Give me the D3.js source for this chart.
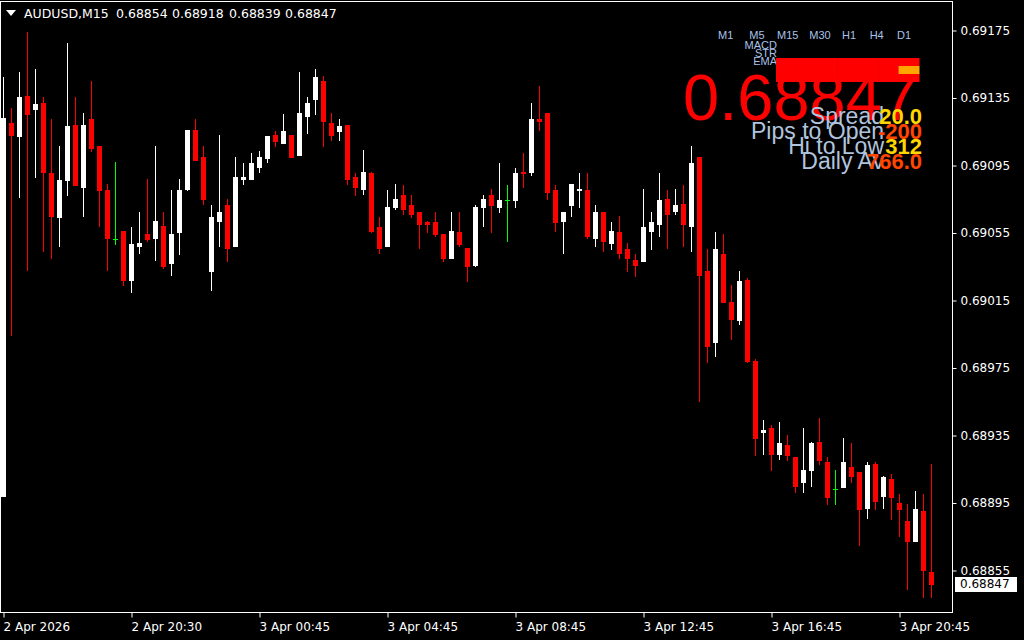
<!DOCTYPE html>
<html><head><meta charset="utf-8">
<script src="https://cdn.jsdelivr.net/npm/d3@7"></script>
<style>html,body{margin:0;padding:0;background:#000;overflow:hidden}</style>
</head><body>
<svg id="chart" width="1024" height="640"></svg>
<script>
// ---------------- data ----------------
const symbol = "AUDUSD,M15";
const headerPrices = ["0.68854", "0.68918", "0.68839", "0.68847"];
const opens = [0.68899,0.69120,0.69112,0.69136,0.69128,0.69132,0.69090,0.69064,0.69086,0.69119,
0.69082,0.69122,0.69106,0.69080,0.69051,0.69056,0.69027,0.69047,0.69054,0.69052,
0.69059,0.69037,0.69055,0.69081,0.69116,0.69100,0.69032,0.69062,0.69071,0.69047,
0.69087,0.69087,0.69094,0.69099,0.69113,0.69108,0.69113,0.69101,0.69124,0.69134,
0.69145,0.69120,0.69115,0.69119,0.69088,0.69081,0.69090,0.69058,0.69047,0.69070,
0.69077,0.69071,0.69067,0.69061,0.69061,0.69054,0.69040,0.69055,0.69046,0.69036,
0.69070,0.69077,0.69070,0.69074,0.69074,0.69091,0.69091,0.69122,0.69126,0.69080,
0.69062,0.69071,0.69080,0.69080,0.69052,0.69067,0.69049,0.69055,0.69045,0.69039,
0.69038,0.69056,0.69060,0.69075,0.69068,0.69072,0.69059,0.69100,0.69032,0.68990,
0.69042,0.69014,0.69003,0.69027,0.68979,0.68937,0.68939,0.68924,0.68929,0.68922,
0.68907,0.68914,0.68931,0.68919,0.68903,0.68904,0.68916,0.68913,0.68892,0.68918,
0.68899,0.68909,0.68895,0.68884,0.68872,0.68890,0.68854];
const highs = [0.69147,0.69129,0.69150,0.69174,0.69152,0.69135,0.69122,0.69106,0.69167,0.69135,
0.69126,0.69145,0.69106,0.69084,0.69097,0.69056,0.69058,0.69067,0.69087,0.69106,
0.69067,0.69080,0.69087,0.69116,0.69122,0.69106,0.69071,0.69113,0.69075,0.69100,
0.69096,0.69102,0.69103,0.69112,0.69115,0.69125,0.69113,0.69150,0.69135,0.69152,
0.69148,0.69126,0.69122,0.69119,0.69090,0.69104,0.69091,0.69064,0.69080,0.69084,
0.69083,0.69077,0.69067,0.69062,0.69067,0.69054,0.69067,0.69067,0.69046,0.69071,
0.69077,0.69081,0.69096,0.69083,0.69093,0.69102,0.69132,0.69142,0.69126,0.69083,
0.69067,0.69084,0.69090,0.69090,0.69071,0.69067,0.69061,0.69065,0.69049,0.69042,
0.69081,0.69067,0.69090,0.69080,0.69081,0.69083,0.69106,0.69100,0.69045,0.69055,
0.69054,0.69024,0.69032,0.69028,0.68980,0.68944,0.68941,0.68943,0.68935,0.68922,
0.68939,0.68931,0.68945,0.68922,0.68914,0.68933,0.68930,0.68913,0.68919,0.68919,
0.68911,0.68912,0.68900,0.68894,0.68902,0.68900,0.68918];
const lows = [0.68899,0.68994,0.69076,0.69033,0.69088,0.69044,0.69040,0.69047,0.69077,0.69083,
0.69065,0.69103,0.69059,0.69033,0.69048,0.69024,0.69020,0.69043,0.69050,0.69039,
0.69034,0.69030,0.69042,0.69080,0.69098,0.69072,0.69021,0.69047,0.69038,0.69047,
0.69084,0.69087,0.69091,0.69097,0.69106,0.69108,0.69100,0.69101,0.69114,0.69125,
0.69106,0.69110,0.69110,0.69084,0.69077,0.69078,0.69055,0.69043,0.69047,0.69069,
0.69066,0.69064,0.69046,0.69055,0.69053,0.69038,0.69040,0.69047,0.69026,0.69035,
0.69059,0.69055,0.69067,0.69050,0.69070,0.69082,0.69089,0.69116,0.69075,0.69056,
0.69043,0.69065,0.69070,0.69052,0.69047,0.69044,0.69045,0.69040,0.69032,0.69029,
0.69038,0.69045,0.69053,0.69046,0.69066,0.69047,0.69044,0.68955,0.68978,0.68982,
0.69014,0.68992,0.69001,0.68978,0.68923,0.68924,0.68914,0.68921,0.68920,0.68901,
0.68901,0.68905,0.68918,0.68894,0.68894,0.68904,0.68907,0.68870,0.68886,0.68891,
0.68892,0.68885,0.68875,0.68844,0.68872,0.68839,0.68839];
const closes = [0.69123,0.69113,0.69135,0.69125,0.69131,0.69091,0.69065,0.69086,0.69118,0.69083,
0.69119,0.69105,0.69080,0.69052,0.69051,0.69027,0.69048,0.69049,0.69051,0.69062,
0.69035,0.69054,0.69080,0.69116,0.69098,0.69075,0.69064,0.69067,0.69046,0.69088,
0.69088,0.69096,0.69100,0.69112,0.69109,0.69115,0.69100,0.69126,0.69132,0.69147,
0.69121,0.69113,0.69118,0.69087,0.69082,0.69091,0.69056,0.69046,0.69070,0.69075,
0.69069,0.69066,0.69060,0.69060,0.69054,0.69040,0.69056,0.69048,0.69035,0.69070,
0.69075,0.69071,0.69074,0.69074,0.69090,0.69090,0.69122,0.69121,0.69079,0.69061,
0.69067,0.69084,0.69081,0.69053,0.69067,0.69050,0.69056,0.69043,0.69040,0.69036,
0.69058,0.69061,0.69074,0.69066,0.69071,0.69060,0.69096,0.69030,0.68988,0.69045,
0.69014,0.69004,0.69026,0.68979,0.68933,0.68938,0.68924,0.68930,0.68923,0.68905,
0.68914,0.68930,0.68920,0.68898,0.68903,0.68919,0.68911,0.68891,0.68917,0.68896,
0.68910,0.68898,0.68891,0.68872,0.68891,0.68855,0.68847];
const priceTicks = [0.69175,0.69135,0.69095,0.69055,0.69015,0.68975,0.68935,0.68895,0.68855];
const timeTickIndex = [0,16,32,48,64,80,96,112];
const timeTickLabels = ["2 Apr 2026","2 Apr 20:30","3 Apr 00:45","3 Apr 04:45","3 Apr 08:45","3 Apr 12:45","3 Apr 16:45","3 Apr 20:45"];
const lastPrice = 0.68847;
const tfLabels = ["M1","M5","M15","M30","H1","H4","D1"];
const indicatorNames = ["MACD","STR","EMA"];
// signal per indicator row x timeframe column (7 cells across the strip)
const signals = [
  ["dn","dn","dn","dn","dn","dn","dn"],
  ["dn","dn","dn","dn","dn","dn","flat"],
  ["dn","dn","dn","dn","dn","dn","dn"]
];
const statLabels = ["Spread","Pips to Open","Hi to Low","Daily Av"];
const statValues = ["20.0","-200","312","766.0"];
const statKinds = ["pos","neg","pos","neg"];

// ---------------- layout ----------------
const W = 1024, H = 640;
const plotRight = 952, plotBottom = 612;
const svg = d3.select("#chart");
svg.append("rect").attr("width", W).attr("height", H).attr("fill", "#000");

const n = opens.length;
const x = d3.scaleLinear().domain([0, n - 1]).range([3.5, 3.5 + 8 * (n - 1)]);
const y = d3.scaleLinear().domain([0.69175, lastPrice]).range([30, 583.5]);

const bars = d3.range(n).map(i => ({i, o: opens[i], h: highs[i], l: lows[i], c: closes[i]}));
const col = d => d.c > d.o ? "#ffffff" : (d.c < d.o ? "#ff0000" : "#00ff00");

const g = svg.append("g");
// wicks
g.selectAll("line.wick").data(bars).join("line")
  .attr("class", "wick")
  .attr("x1", d => x(d.i)).attr("x2", d => x(d.i))
  .attr("y1", d => Math.round(y(d.h))).attr("y2", d => Math.round(y(d.l)) + 1)
  .attr("stroke", col).attr("stroke-width", 1);
// bodies
g.selectAll("rect.body").data(bars).join("rect")
  .attr("class", "body")
  .attr("x", d => x(d.i) - 2.5).attr("width", 5)
  .attr("y", d => Math.round(y(Math.max(d.o, d.c))))
  .attr("height", d => Math.max(1, Math.round(y(Math.min(d.o, d.c))) - Math.round(y(Math.max(d.o, d.c))) + 1))
  .attr("fill", col);

// frame
svg.append("rect").attr("x", 0.5).attr("y", 1.5)
  .attr("width", plotRight).attr("height", plotBottom - 1)
  .attr("fill", "none").attr("stroke", "#fff").attr("stroke-width", 1);

const axisFont = "'DejaVu Sans', Verdana, sans-serif";
// right price axis
const yAxis = svg.append("g").attr("transform", `translate(${plotRight + 0.5},0.5)`)
  .call(d3.axisRight(y).tickValues(priceTicks).tickSize(4).tickPadding(4).tickFormat(d3.format(".5f")));
yAxis.select(".domain").remove();
yAxis.selectAll("line").attr("stroke", "#fff");
yAxis.selectAll("text").attr("fill", "#fff").attr("font-family", axisFont).attr("font-size", 12);

// current price box
svg.append("rect").attr("x", 955).attr("y", Math.round(y(lastPrice)) - 7).attr("width", 62).attr("height", 15).attr("fill", "#fff");
svg.append("text").attr("x", 960).attr("y", y(lastPrice) + 4.5)
  .attr("fill", "#000").attr("font-family", axisFont).attr("font-size", 12)
  .text(d3.format(".5f")(lastPrice));

// bottom time axis
const xAxis = svg.append("g").attr("transform", `translate(0,${plotBottom + 0.5})`)
  .call(d3.axisBottom(x).tickValues(timeTickIndex).tickSize(5)
    .tickFormat((d, k) => timeTickLabels[k]));
xAxis.select(".domain").remove();
xAxis.selectAll("line").attr("stroke", "#fff");
xAxis.selectAll("text").attr("fill", "#fff").attr("font-family", axisFont).attr("font-size", 12)
  .attr("text-anchor", "start").attr("dy", null).attr("y", 18.5).attr("dx", -0.5);

// header
svg.append("path").attr("d", "M6,10 L16,10 L11,16 Z").attr("fill", "#fff");
const header = svg.append("g").attr("font-family", axisFont).attr("font-size", 12.5).attr("fill", "#fff");
header.append("text").attr("x", 24).attr("y", 18).text(symbol);
const headerX = [116, 172, 229, 285];
header.selectAll("text.hp").data(headerPrices).join("text").attr("class", "hp")
  .attr("x", (d, k) => headerX[k]).attr("y", 18).text(d => d);

// indicator panel
const panelFont = "'Liberation Sans', Arial, sans-serif";
const tfX = [725.7, 757, 787.7, 820, 849, 876.7, 904];
svg.append("g").selectAll("text").data(tfLabels).join("text")
  .attr("x", (d, k) => tfX[k]).attr("y", 39).attr("text-anchor", "middle")
  .attr("font-family", panelFont).attr("font-size", 11).attr("fill", "#a9c1e8").text(d => d);
svg.append("g").selectAll("text").data(indicatorNames).join("text")
  .attr("x", 777).attr("y", (d, k) => 49 + 8 * k).attr("text-anchor", "end")
  .attr("font-family", panelFont).attr("font-size", 11).attr("fill", "#a9c1e8").text(d => d);
const cellX = d3.scaleBand().domain(d3.range(7)).range([776, 919]);
const cellY = d3.scaleBand().domain(d3.range(3)).range([58, 82]);
const sigColor = {dn: "#ff0000", up: "#00c800", flat: "#ffa500"};
signals.forEach((row, r) => {
  svg.append("g").selectAll("rect").data(row).join("rect")
    .attr("x", (d, c) => cellX(c)).attr("y", cellY(r))
    .attr("width", cellX.bandwidth() + 0.5).attr("height", cellY.bandwidth())
    .attr("fill", d => sigColor[d]);
});
svg.append("text").attr("x", 918).attr("y", 120).attr("text-anchor", "end")
  .attr("font-family", panelFont).attr("font-size", 65).attr("fill", "#ff0000")
  .text(d3.format(".5f")(lastPrice));
const statColor = {pos: "#ffd700", neg: "#ff4500"};
statLabels.forEach((lab, k) => {
  svg.append("text").attr("x", 884).attr("y", 123.5 + 15 * k).attr("text-anchor", "end")
    .attr("font-family", panelFont).attr("font-size", 23).attr("fill", "#b0c4de").text(lab);
});
statValues.forEach((v, k) => {
  svg.append("text").attr("x", 922).attr("y", 123.5 + 15 * k).attr("text-anchor", "end")
    .attr("font-family", panelFont).attr("font-size", 22).attr("font-weight", "bold")
    .attr("fill", statColor[statKinds[k]]).text(v);
});
</script>
</body></html>
